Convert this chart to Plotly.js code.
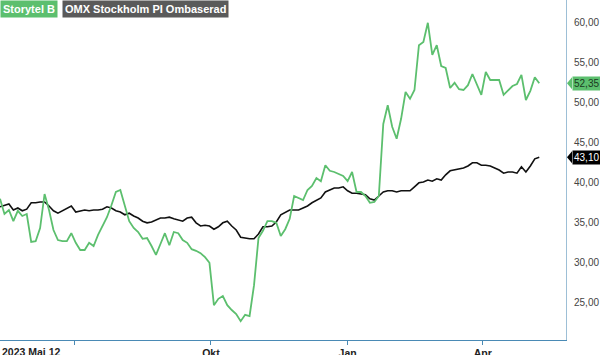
<!DOCTYPE html>
<html><head><meta charset="utf-8">
<script src="https://cdn.plot.ly/plotly-3.0.1.min.js"></script>
<style>html,body{margin:0;padding:0;background:#fff;}#c{width:600px;height:355px;}</style>
</head><body><div id="c"></div>
<script>
const dates = ["2023-05-12","2023-05-15","2023-05-18","2023-05-21","2023-05-24","2023-05-27","2023-05-30","2023-06-02","2023-06-05","2023-06-08",
"2023-06-11","2023-06-14","2023-06-17","2023-06-20","2023-06-23","2023-06-26","2023-06-29","2023-07-02","2023-07-05","2023-07-08",
"2023-07-11","2023-07-14","2023-07-17","2023-07-20","2023-07-23","2023-07-26","2023-07-29","2023-08-01","2023-08-04","2023-08-07",
"2023-08-10","2023-08-13","2023-08-16","2023-08-19","2023-08-22","2023-08-25","2023-08-28","2023-08-31","2023-09-03","2023-09-06",
"2023-09-09","2023-09-12","2023-09-15","2023-09-18","2023-09-21","2023-09-24","2023-09-27","2023-09-30","2023-10-03","2023-10-06",
"2023-10-09","2023-10-12","2023-10-15","2023-10-18","2023-10-21","2023-10-24","2023-10-27","2023-10-30","2023-11-02","2023-11-05",
"2023-11-08","2023-11-11","2023-11-14","2023-11-17","2023-11-20","2023-11-23","2023-11-26","2023-11-29","2023-12-02","2023-12-05",
"2023-12-08","2023-12-11","2023-12-14","2023-12-17","2023-12-20","2023-12-23","2023-12-26","2023-12-29","2024-01-01","2024-01-04",
"2024-01-07","2024-01-10","2024-01-13","2024-01-16","2024-01-19","2024-01-22","2024-01-25","2024-01-28","2024-01-31","2024-02-03",
"2024-02-06","2024-02-09","2024-02-12","2024-02-15","2024-02-18","2024-02-21","2024-02-24","2024-02-27","2024-03-01","2024-03-04",
"2024-03-07","2024-03-10","2024-03-13","2024-03-16","2024-03-19","2024-03-22","2024-03-25","2024-03-28","2024-03-31","2024-04-03",
"2024-04-06","2024-04-09","2024-04-12","2024-04-15","2024-04-18","2024-04-21","2024-04-24","2024-04-27","2024-04-30","2024-05-03",
"2024-05-06","2024-05-09"];

const storytel = [37.9,36.0,36.5,35.1,36.4,35.75,36.0,32.5,32.6,34.25,
38.5,36.5,34.0,32.75,32.6,32.6,33.6,32.4,31.5,31.5,
32.4,32.0,33.4,34.5,35.6,37.1,38.75,39.0,37.0,35.1,
34.25,33.75,32.9,33.0,32.0,30.9,32.25,33.6,32.1,33.75,
33.6,32.75,32.4,31.6,31.4,31.1,30.6,29.9,24.6,25.4,
25.75,24.6,24.0,23.5,22.6,23.4,23.25,27.1,33.0,33.9,
35.1,35.1,34.9,33.25,34.1,35.4,38.25,38.0,37.75,39.0,
39.5,40.5,40.1,42.1,41.4,41.25,41.0,40.75,40.1,41.25,
38.75,38.75,38.25,37.4,37.5,38.25,47.25,49.6,46.9,45.4,
47.9,51.25,50.4,51.5,57.1,57.5,59.9,55.9,57.1,54.5,
54.25,51.75,52.4,51.6,51.5,52.1,53.5,52.1,50.9,53.75,
52.75,52.75,52.75,50.9,51.5,52.0,52.25,53.4,50.25,51.4,
53.1,52.35];

const omx = [36.9,37.1,37.25,36.5,36.75,36.4,36.6,37.4,37.4,37.5,
37.5,37.0,36.4,36.1,36.4,36.75,37.0,36.25,36.4,36.5,
36.4,36.5,36.5,36.6,36.9,36.75,36.4,36.25,35.9,36.1,
35.75,35.5,35.1,34.9,35.0,35.25,35.5,35.5,35.6,35.4,
35.25,35.1,35.5,35.6,34.9,34.5,34.6,34.5,34.1,34.4,
34.9,35.1,34.5,34.0,33.1,33.0,32.9,32.9,33.5,34.4,
34.4,34.5,35.0,35.9,36.25,36.5,36.5,36.5,36.75,37.0,
37.4,37.75,38.0,38.75,39.0,39.25,39.25,39.4,38.9,38.6,
38.6,38.5,38.4,37.9,37.75,38.25,38.75,38.9,38.9,38.75,
38.9,38.9,38.9,39.4,39.9,40.0,40.25,40.1,40.4,40.25,
40.9,41.4,41.5,41.6,41.75,42.0,42.4,42.4,42.1,42.1,
42.0,41.75,41.5,41.1,41.25,41.25,41.1,41.9,41.25,42.0,
42.9,43.1];

const seriesNames = ["Storytel B", "OMX Stockholm PI Ombaserad"];
const xTickVals = ["2023-07-01","2023-10-01","2024-01-01","2024-04-01"];
const xTickText = ["", "Okt", "Jan", "Apr"];
const startLabel = "2023 Maj 12";
const yTickVals = [25,30,35,40,45,50,55,60];

const green = "#5cbf6e";
const lastS = storytel[storytel.length-1];
const lastO = omx[omx.length-1];
const fmt = v => v.toFixed(2).replace(".", ",");
const FF = "Arial, Liberation Sans, sans-serif";

const traces = [
  {x: dates, y: omx, type: "scatter", mode: "lines", name: seriesNames[1],
   line: {color: "#111", width: 1.6}, hoverinfo: "skip"},
  {x: dates, y: storytel, type: "scatter", mode: "lines", name: seriesNames[0],
   line: {color: green, width: 1.8}, hoverinfo: "skip"}
];

const layout = {
  width: 600, height: 355,
  margin: {l: 0, r: 34, t: 0, b: 15},
  paper_bgcolor: "#fff", plot_bgcolor: "#fff",
  showlegend: false,
  separators: ", ",
  font: {family: FF, size: 10, color: "#333"},
  xaxis: {
    type: "date", range: ["2023-05-12", "2024-05-27"],
    tickvals: xTickVals, ticktext: xTickText,
    ticks: "outside", ticklen: 4, tickcolor: "#4a8ab5", tickwidth: 1,
    showline: true, linecolor: "#4a8ab5", linewidth: 1,
    showgrid: false, zeroline: false, ticklabelstandoff: -1,
    tickfont: {family: FF, size: 10.5, color: "#222", weight: "bold"}
  },
  yaxis: {
    side: "right", range: [20.25, 62.75],
    tickvals: yTickVals, tickformat: ".2f",
    ticks: "", showgrid: false, zeroline: false, showline: true, mirror: false,
    linecolor: "#9dbfd6", linewidth: 1, ticklabelstandoff: 5,
    tickfont: {family: FF, size: 10, color: "#444"}
  },
  shapes: [
    {type: "path", xref: "paper", yref: "y", xsizemode: "pixel", ysizemode: "pixel",
     xanchor: 1, yanchor: lastS, path: "M 1 0 L 6 -6 L 6 6 Z", fillcolor: green, line: {width: 0}},
    {type: "path", xref: "paper", yref: "y", xsizemode: "pixel", ysizemode: "pixel",
     xanchor: 1, yanchor: lastO, path: "M 1 0 L 6 -6 L 6 6 Z", fillcolor: "#000", line: {width: 0}}
  ],
  annotations: [
    {xref: "paper", yref: "y", x: 1, y: lastS, xanchor: "left", yanchor: "middle", xshift: 6,
     text: fmt(lastS), showarrow: false, bgcolor: green, borderpad: 1,
     font: {family: FF, size: 10, color: "#1a3a1f"}},
    {xref: "paper", yref: "y", x: 1, y: lastO, xanchor: "left", yanchor: "middle", xshift: 6,
     text: fmt(lastO), showarrow: false, bgcolor: "#000", borderpad: 1,
     font: {family: FF, size: 10, color: "#fff"}},
    {xref: "paper", yref: "paper", x: 0, y: 1, xanchor: "left", yanchor: "top",
     text: "<b>" + seriesNames[0] + "</b>", showarrow: false, bgcolor: green, borderpad: 2,
     font: {family: FF, size: 11, color: "#fff"}},
    {xref: "paper", yref: "paper", x: 62/566, y: 1, xanchor: "left", yanchor: "top",
     text: "<b>" + seriesNames[1] + "</b>", showarrow: false, bgcolor: "#5a5a5a", borderpad: 2,
     font: {family: FF, size: 11, color: "#fff"}},
    {xref: "paper", yref: "paper", x: 0, y: 0, xanchor: "left", yanchor: "top", yshift: -4,
     text: "<b>" + startLabel + "</b>", showarrow: false,
     font: {family: FF, size: 10.5, color: "#222"}}
  ]
};

Plotly.newPlot("c", traces, layout, {staticPlot: true, displayModeBar: false});
</script></body></html>
